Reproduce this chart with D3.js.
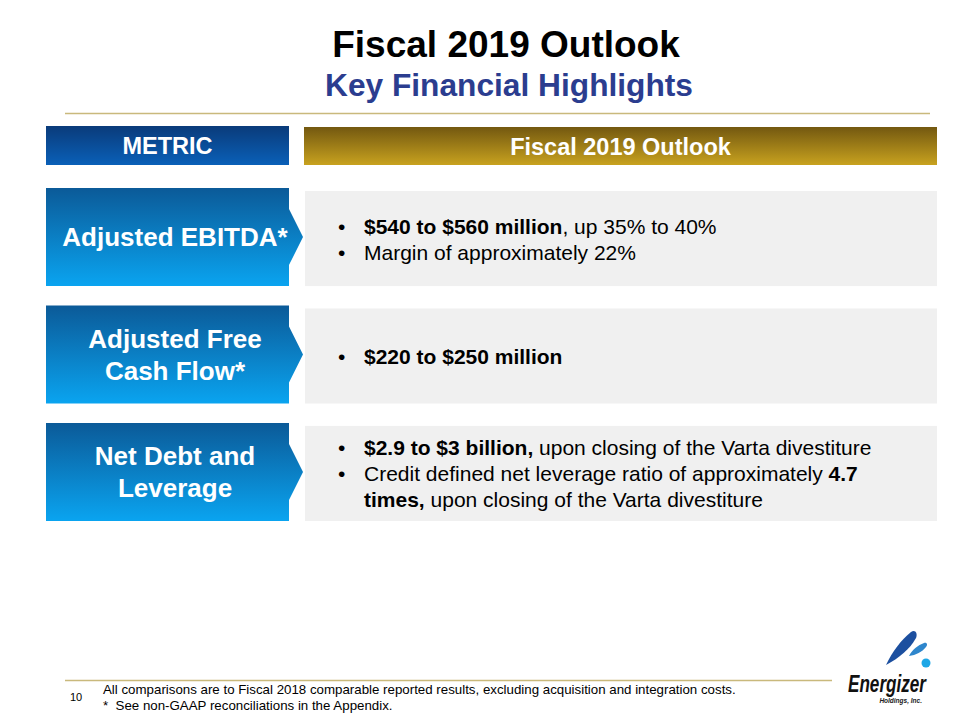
<!DOCTYPE html>
<html>
<head>
<meta charset="utf-8">
<script src="https://cdn.jsdelivr.net/npm/d3@7"></script>
<style>
  html, body { margin: 0; padding: 0; background: #fff; }
  svg { display: block; font-family: "Liberation Sans", Arial, sans-serif; }
</style>
</head>
<body>
<svg id="chart" width="960" height="720"></svg>
<script>
// ---- data ----
const titleText = "Fiscal 2019 Outlook";
const subtitleText = "Key Financial Highlights";
const headerLeft = "METRIC";
const headerRight = "Fiscal 2019 Outlook";
const metrics = ["Adjusted EBITDA*", "Adjusted Free Cash Flow*", "Net Debt and Leverage"];
const metricLines = [["Adjusted EBITDA*"], ["Adjusted Free", "Cash Flow*"], ["Net Debt and", "Leverage"]];
const outlookBullets = [
  [ // Adjusted EBITDA
    { lines: [[["$540 to $560 million", true], [", up 35% to 40%", false]]] },
    { lines: [[["Margin of approximately 22%", false]]] }
  ],
  [ // Free cash flow
    { lines: [[["$220 to $250 million", true]]] }
  ],
  [ // Net debt
    { lines: [[["$2.9 to $3 billion,", true], [" upon closing of the Varta divestiture", false]]] },
    { lines: [[["Credit defined net leverage ratio of approximately ", false], ["4.7", true]],
              [["times,", true], [" upon closing of the Varta divestiture", false]]] }
  ]
];
const pageNumber = "10";
const footnotes = [
  "All comparisons are to Fiscal 2018 comparable reported results, excluding acquisition and integration costs.",
  "*  See non-GAAP reconciliations in the Appendix."
];

// ---- drawing ----
const svg = d3.select("#chart");
const defs = svg.append("defs");

function vGrad(id, top, bottom) {
  const g = defs.append("linearGradient").attr("id", id)
    .attr("x1", 0).attr("y1", 0).attr("x2", 0).attr("y2", 1);
  g.append("stop").attr("offset", "0%").attr("stop-color", top);
  g.append("stop").attr("offset", "100%").attr("stop-color", bottom);
}
vGrad("gBlue", "#0b5a98", "#0aa4f0");
vGrad("gNavy", "#0a3b7a", "#0a60b8");
vGrad("gGold", "#735810", "#c8a21f");

// Title
svg.append("text").attr("x", 506).attr("y", 57)
  .attr("text-anchor", "middle").attr("font-size", 37).attr("font-weight", "bold")
  .attr("fill", "#000").text(titleText);
svg.append("text").attr("x", 509).attr("y", 96)
  .attr("text-anchor", "middle").attr("font-size", 31.7).attr("font-weight", "bold")
  .attr("fill", "#2b3d8f").text(subtitleText);
svg.append("line").attr("x1", 65).attr("x2", 930).attr("y1", 113.5).attr("y2", 113.5)
  .attr("stroke", "#c9b97c").attr("stroke-width", 1.5);

// Columns
const x = d3.scaleOrdinal().domain(["metric", "outlook"]).range([46, 304]);
const colRight = { metric: 289, outlook: 937 };

// Headers
svg.append("rect").attr("x", x("metric")).attr("y", 126)
  .attr("width", colRight.metric - x("metric")).attr("height", 39).attr("fill", "url(#gNavy)");
svg.append("text").attr("x", (x("metric") + colRight.metric) / 2).attr("y", 154)
  .attr("text-anchor", "middle").attr("font-size", 23.5).attr("font-weight", "bold")
  .attr("fill", "#fff").text(headerLeft);
svg.append("rect").attr("x", x("outlook")).attr("y", 127)
  .attr("width", colRight.outlook - x("outlook")).attr("height", 38).attr("fill", "url(#gGold)");
svg.append("text").attr("x", (x("outlook") + colRight.outlook) / 2).attr("y", 155)
  .attr("text-anchor", "middle").attr("font-size", 23.5).attr("font-weight", "bold")
  .attr("fill", "#fff").text(headerRight);

// Rows
const y = d3.scaleBand().domain(metrics).range([188, 521]).paddingInner(0.165);
const h = y.bandwidth();
const arrowHalf = 28, arrowTip = 14;

const rows = svg.selectAll("g.row").data(metrics).join("g").attr("class", "row");

// grey outlook panels
rows.append("rect")
  .attr("x", x("outlook") + 1)
  .attr("y", d => y(d) + 3)
  .attr("width", colRight.outlook - x("outlook") - 1)
  .attr("height", h - 3)
  .attr("fill", "#f0f0f0");

// blue chevron boxes
rows.append("path")
  .attr("d", d => {
    const t = y(d), b = t + h, cy = t + h / 2, l = x("metric"), r = colRight.metric;
    return `M${l},${t}H${r}V${cy - arrowHalf}L${r + arrowTip},${cy}L${r},${cy + arrowHalf}V${b}H${l}Z`;
  })
  .attr("fill", "url(#gBlue)");

// metric labels
rows.each(function(d, i) {
  const g = d3.select(this);
  const cy = y(d) + h / 2;
  const lines = metricLines[i];
  const lh = 32;
  const t = g.append("text").attr("text-anchor", "middle").attr("font-size", 26)
    .attr("font-weight", "bold").attr("fill", "#fff");
  lines.forEach((ln, k) => {
    t.append("tspan").attr("x", 175)
      .attr("y", cy - (lines.length - 1) * lh / 2 + 9 + k * lh).text(ln);
  });
});

// outlook bullets
rows.each(function(d, i) {
  const g = d3.select(this);
  const cy = y(d) + 3 + (h - 3) / 2;
  const items = outlookBullets[i];
  const allLines = [];
  items.forEach(it => it.lines.forEach((ln, k) => allLines.push({ segs: ln, first: k === 0 })));
  const lh = 26;
  const y0 = cy - (allLines.length - 1) * lh / 2 + 8;
  allLines.forEach((ln, k) => {
    const by = y0 + k * lh;
    if (ln.first) {
      g.append("text").attr("x", 338).attr("y", by).attr("font-size", 21)
        .attr("fill", "#000").text("•");
    }
    const t = g.append("text").attr("x", 364).attr("y", by).attr("font-size", 21)
      .attr("fill", "#000").style("white-space", "pre");
    ln.segs.forEach(s => {
      t.append("tspan").attr("font-weight", s[1] ? "bold" : "normal").text(s[0]);
    });
  });
});

// Footer
svg.append("line").attr("x1", 65).attr("x2", 832).attr("y1", 680.5).attr("y2", 680.5)
  .attr("stroke", "#c9b97c").attr("stroke-width", 1.5);
svg.append("text").attr("x", 70).attr("y", 701).attr("font-size", 11)
  .attr("fill", "#000").text(pageNumber);
svg.selectAll("text.foot").data(footnotes).join("text").attr("class", "foot")
  .attr("x", 103).attr("y", (d, i) => 694 + i * 16)
  .attr("font-size", 13.3).attr("fill", "#000")
  .style("white-space", "pre").text(d => d);

// Logo
const logo = svg.append("g");
logo.append("path")
  .attr("d", "M886,665 C892,652 901,640 911,632 C915,629 918,633 916,638 C910,649 899,658 886,665 Z")
  .attr("fill", "#1c4f9f");
logo.append("path")
  .attr("d", "M909,656 C912,650 918,645 924,643 C927,642 928,645 926,647 C922,652 916,655 909,656 Z")
  .attr("fill", "#2e86cc");
logo.append("circle").attr("cx", 926).attr("cy", 663).attr("r", 4.5).attr("fill", "#1ea7e6");
logo.append("text").attr("x", 848).attr("y", 692).attr("font-size", 23)
  .attr("font-weight", "bold").attr("font-style", "italic")
  .attr("textLength", 78).attr("lengthAdjust", "spacingAndGlyphs")
  .attr("fill", "#111").text("Energizer");
logo.append("text").attr("x", 922).attr("y", 703).attr("font-size", 6.5)
  .attr("font-weight", "bold").attr("font-style", "italic").attr("text-anchor", "end")
  .attr("fill", "#222").text("Holdings, Inc.");
</script>
</body>
</html>
